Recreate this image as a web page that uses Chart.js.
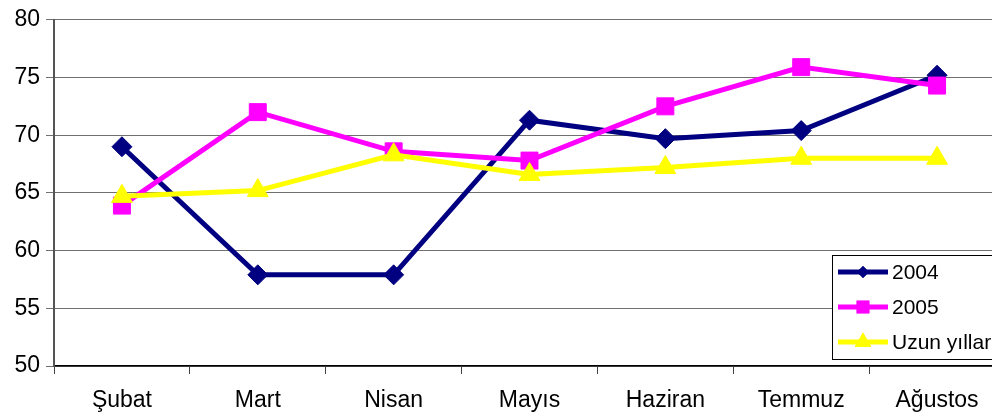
<!DOCTYPE html>
<html>
<head>
<meta charset="utf-8">
<script src="https://cdn.jsdelivr.net/npm/chart.js@4.4.1/dist/chart.umd.min.js"></script>
<style>
  html, body { margin: 0; padding: 0; background: #fff; overflow: hidden; }
  #wrap { position: relative; width: 1018px; height: 416px; }
</style>
</head>
<body>
<div id="wrap"><canvas id="c"></canvas></div>
<script>
// Months (February - August)
const months = ['Şubat', 'Mart', 'Nisan', 'Mayıs', 'Haziran', 'Temmuz', 'Ağustos'];

// Monthly values per period
const values2004 = [69.0, 57.9, 57.9, 71.3, 69.7, 70.4, 75.2];
const values2005 = [63.9, 72.0, 68.6, 67.8, 72.5, 75.9, 74.3];
const valuesLongTerm = [64.7, 65.2, 68.3, 66.6, 67.2, 68.0, 68.0];

// Y axis range and step
const yMin = 50, yMax = 80, yStep = 5;

const FONT = 'Liberation Sans, Arial, sans-serif';

const series = [
  { label: '2004', data: values2004, color: '#000080', style: 'rectRot', radius: 10, lr: 6, order: 3 },
  { label: '2005', data: values2005, color: '#FF00FF', style: 'rect', radius: 12, lr: 9, order: 2 },
  { label: 'Uzun yıllar', data: valuesLongTerm, color: '#FFFF00', style: 'triangle', radius: 12, lr: 9.5, order: 1 }
];

// Boxed legend drawn inside the lower right of the plot
const boxLegend = {
  id: 'boxLegend',
  afterDraw(chart) {
    const ctx = chart.ctx;
    const area = chart.chartArea;
    const left = area.right - 173;
    const top = area.bottom - 111;
    const bottom = area.bottom - 7;
    ctx.save();
    ctx.fillStyle = '#fff';
    ctx.fillRect(left, top, chart.width - left + 5, bottom - top);
    ctx.strokeStyle = '#000';
    ctx.lineWidth = 1;
    ctx.strokeRect(left + 0.5, top + 0.5, chart.width - left + 5, bottom - top);
    ctx.font = '21px ' + FONT;
    ctx.textBaseline = 'middle';
    series.forEach((s, i) => {
      const y = top + 17 + i * 35;
      const x0 = left + 6, x1 = left + 56;
      ctx.strokeStyle = s.color;
      ctx.lineWidth = 5;
      ctx.beginPath();
      ctx.moveTo(x0, y);
      ctx.lineTo(x1, y);
      ctx.stroke();
      ctx.fillStyle = s.color;
      Chart.helpers.drawPoint(ctx, { pointStyle: s.style, radius: s.lr, borderWidth: 0, rotation: 0 }, (x0 + x1) / 2, y);
      ctx.fill();
      ctx.fillStyle = '#000';
      ctx.fillText(s.label, left + 60, y + 1);
    });
    ctx.restore();
  }
};

new Chart(document.getElementById('c'), {
  type: 'line',
  data: {
    labels: months,
    datasets: series.map(s => ({
      label: s.label,
      data: s.data,
      order: s.order,
      borderColor: s.color,
      backgroundColor: s.color,
      borderWidth: 5,
      pointStyle: s.style,
      pointRadius: s.radius,
      pointBorderWidth: 1,
      pointBorderColor: s.color,
      pointBackgroundColor: s.color,
      tension: 0,
      fill: false
    }))
  },
  options: {
    responsive: true,
    maintainAspectRatio: false,
    devicePixelRatio: 1,
    animation: false,
    events: [],
    layout: { padding: { top: 19, right: 0, left: 0, bottom: 0 } },
    plugins: { legend: { display: false }, tooltip: { enabled: false } },
    scales: {
      x: {
        offset: true,
        grid: { offset: true, drawOnChartArea: false, drawTicks: true, tickLength: 8, color: '#444', lineWidth: 1 },
        border: { color: '#000', width: 1.5 },
        ticks: { color: '#000', font: { family: FONT, size: 23 }, padding: 13, maxRotation: 0, autoSkip: false },
        afterFit(scale) { scale.height = 50; }
      },
      y: {
        min: yMin,
        max: yMax,
        grid: { color: '#707070', lineWidth: 1, tickLength: 8 },
        border: { color: '#555', width: 2 },
        ticks: { stepSize: yStep, color: '#000', font: { family: FONT, size: 23 }, padding: 6 },
        afterFit(scale) { scale.width = 54; }
      }
    }
  },
  plugins: [boxLegend]
});
</script>
</body>
</html>
